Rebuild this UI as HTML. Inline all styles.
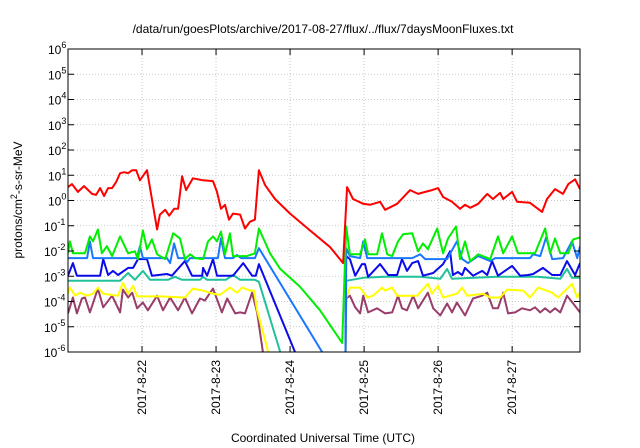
<!DOCTYPE html>
<html><head><meta charset="utf-8"><style>
html,body{margin:0;padding:0;background:#fff;}
svg{display:block;font-family:"Liberation Sans",Arial,sans-serif;}
</style></head><body>
<svg id="chart" width="640" height="448" viewBox="0 0 640 448">
<defs><clipPath id="plotclip"><rect x="68" y="49" width="512" height="303"/></clipPath></defs>
<text x="323" y="33" font-size="12" text-anchor="middle">/data/run/goesPlots/archive/2017-08-27/flux/../flux/7daysMoonFluxes.txt</text>
<text x="323" y="442" font-size="12" text-anchor="middle">Coordinated Universal Time (UTC)</text>
<text transform="translate(22,200) rotate(-90)" font-size="12" text-anchor="middle">protons/cm<tspan dy="-5" font-size="9">2</tspan><tspan dy="5">-s-sr-MeV</tspan></text>
<g id="grid"></g>
<g id="series" clip-path="url(#plotclip)"></g>
<rect x="68" y="49" width="512" height="303" fill="none" stroke="#000" stroke-width="1"/>
<g id="axes"></g>
</svg>
<script>
const yExponents = [-6,-5,-4,-3,-2,-1,0,1,2,3,4,5,6];
const xTickLabels = ["2017-8-22","2017-8-23","2017-8-24","2017-8-25","2017-8-26","2017-8-27"];
const xTickHours = [24,48,72,96,120,144];

const redT = [0,1.3,3.2,5.2,7.8,9.1,10.4,11.7,13.0,14.3,15.6,16.9,18.2,19.5,20.8,22.1,23.3,25.6,28.9,29.8,31.5,32.8,34.4,35.7,37.0,38.3,40.5,43.8,47.0,48.3,49.6,50.9,52.2,53.5,55.8,57.4,59.0,60.6,61.9,63.9,67.1,72.0,78.5,85.0,89.2,90.5,92.4,95.7,97.9,101.2,102.8,106.7,110.9,113.5,115.8,118.0,120.0,121.6,124.5,127.1,128.7,130.4,133.0,135.9,137.8,140.1,141.1,144.0,145.6,149.8,153.7,155.3,157.9,160.5,162.2,164.4,166.0];
const redV = [.53,.65,.34,.57,.26,.22,.49,.18,.49,.49,.73,1.08,1.12,1.08,1.20,1.20,0.80,1.20,-1.15,-0.56,-0.37,-0.60,-0.33,-0.33,0.96,0.41,0.88,0.80,0.77,0.34,-0.33,-0.17,-0.76,-0.52,-0.56,-1.11,-0.84,-0.76,1.20,0.61,0.06,-0.52,-1.19,-1.85,-2.48,0.53,0.06,-0.13,-0.17,-0.05,-0.37,-0.13,0.41,0.26,0.34,0.41,0.49,0.14,-0.05,-0.33,-0.17,-0.29,-0.13,0.26,0.06,0.30,0.06,0.34,-0.05,-0.09,-0.45,0.06,0.45,0.26,0.65,0.84,0.45];

const greenT = [0,0.6,1.6,5.5,7.1,8.1,9.7,11.0,12.6,14.3,16.9,19.5,21.7,22.7,24.3,25.6,27.2,28.9,31.5,34.1,36.3,37.9,39.6,41.2,43.8,45.4,47.0,48.3,49.6,50.9,52.5,53.5,58.0,60.6,61.9,65.5,68.8,75.2,81.7,88.9,90.2,91.4,94.7,96.3,97.3,100.2,101.8,103.5,105.1,107.0,108.6,111.6,113.5,115.1,116.7,119.7,121.6,123.2,125.8,127.1,128.7,130.4,133.0,136.9,139.4,141.1,144.0,145.9,151.4,154.7,156.3,157.9,159.6,162.2,163.8,166.0];
const greenV = [-2.09,-1.62,-2.09,-2.09,-1.42,-1.62,-1.15,-2.09,-1.81,-2.20,-1.42,-2.09,-2.01,-2.32,-1.19,-1.93,-1.54,-2.13,-2.32,-1.30,-1.50,-2.32,-2.13,-2.28,-2.32,-1.62,-1.42,-1.62,-1.23,-2.13,-1.30,-2.20,-2.20,-2.09,-1.11,-2.09,-2.71,-3.41,-4.35,-5.64,-1.03,-2.13,-2.13,-1.54,-2.13,-2.13,-1.30,-2.13,-2.20,-1.62,-1.34,-1.30,-2.01,-1.70,-1.93,-1.11,-2.09,-1.50,-1.03,-2.32,-1.62,-2.40,-2.13,-2.32,-1.42,-2.09,-1.42,-2.09,-2.09,-1.11,-2.09,-1.50,-2.09,-2.09,-1.54,-1.46];

const lblueT = [0,6.2,7.1,8.1,22.4,23.3,24.3,32.1,33.1,34.4,35.7,37.6,38.6,39.6,48.6,49.6,50.9,53.5,54.8,56.1,60.6,61.9,82.4,86.0,89.9,90.2,91.4,94.7,95.7,97.0,111.6,114.2,115.8,122.9,126.1,127.8,129.7,133.0,136.9,138.5,149.8,150.8,153.1,155.0,157.0,160.5,163.4,165.1,166.0];
const lblueV = [-2.28,-2.28,-1.62,-2.28,-2.28,-1.81,-2.28,-2.28,-2.48,-1.70,-2.28,-2.28,-2.44,-2.28,-2.28,-1.50,-2.28,-2.28,-2.16,-2.28,-2.28,-1.89,-6.0,-6.8,-7.0,-1.89,-2.20,-2.28,-1.62,-2.28,-2.28,-2.13,-2.32,-2.32,-1.62,-2.32,-2.48,-2.20,-2.40,-2.28,-2.28,-2.13,-2.20,-1.46,-2.32,-2.28,-1.62,-2.28,-1.81];

const blueT = [0,1.6,2.9,10.4,11.4,13.0,14.6,16.2,19.5,21.1,22.7,25.6,27.2,32.1,33.7,37.9,40.2,43.5,43.8,45.1,47.0,48.3,53.5,56.8,59.7,60.9,61.9,73.6,76.9,89.9,90.2,91.4,93.1,95.3,96.3,97.3,101.2,103.8,106.7,108.3,109.9,111.6,113.5,115.1,118.4,121.6,123.9,124.8,126.4,127.8,128.7,131.3,134.3,135.9,137.5,139.4,144.0,146.6,149.2,150.8,154.0,157.0,159.6,161.8,164.4,166.0];
const blueV = [-2.98,-2.48,-2.98,-2.98,-2.32,-2.95,-2.79,-2.95,-2.67,-2.67,-2.32,-2.32,-2.98,-2.91,-2.98,-2.40,-2.98,-2.98,-2.67,-2.98,-2.32,-2.98,-2.98,-2.48,-2.98,-2.98,-2.52,-6.0,-7.0,-7.0,-2.20,-2.32,-2.98,-2.52,-2.52,-3.02,-2.52,-2.95,-2.95,-2.32,-2.79,-2.48,-2.40,-2.98,-2.87,-2.52,-2.01,-2.95,-2.83,-2.95,-2.67,-2.98,-2.79,-2.95,-2.40,-2.98,-2.59,-2.98,-2.95,-2.91,-2.67,-2.95,-2.95,-2.40,-2.95,-2.48];

const tealT = [0,16.9,19.5,21.7,24.3,26.6,32.4,34.7,37.0,42.8,43.8,45.1,51.2,53.5,55.8,60.6,61.9,68.8,70.4,89.9,90.2,95.7,102.2,114.2,120.7,122.9,124.5,139.1,152.1,159.6,161.8,163.4,166.0];
const tealV = [-3.18,-3.18,-2.87,-3.14,-2.79,-3.14,-3.14,-3.02,-3.14,-3.14,-3.02,-3.14,-3.14,-2.95,-3.14,-3.14,-3.22,-6.0,-7.0,-7.0,-3.18,-3.06,-3.02,-3.02,-3.10,-2.71,-3.10,-3.02,-3.02,-3.10,-2.71,-3.06,-3.06];

const yellowT = [0,0.6,2.3,3.9,6.2,8.1,9.7,11.4,16.2,17.8,19.5,21.1,22.4,29.8,37.9,40.5,43.8,47.0,49.3,52.5,54.8,56.4,59.0,60.3,61.3,64.9,65.8,89.9,90.2,91.4,94.7,97.0,98.9,101.8,102.8,105.1,106.7,113.2,116.7,118.0,120.0,121.6,126.1,127.8,129.4,134.6,136.9,140.1,142.4,147.6,149.8,152.4,157.0,158.9,161.2,163.4,165.1,166.0];
const yellowV = [-3.69,-3.45,-3.77,-3.65,-3.77,-3.69,-3.45,-3.69,-3.77,-3.26,-3.69,-3.38,-3.80,-3.80,-3.84,-3.49,-3.57,-3.69,-3.73,-3.45,-3.65,-3.45,-3.57,-3.57,-4.35,-6.0,-7.0,-7.0,-3.84,-3.45,-3.45,-3.84,-3.77,-3.45,-3.57,-3.45,-3.77,-3.77,-3.30,-3.69,-3.38,-3.84,-3.69,-3.45,-3.77,-3.69,-3.84,-3.84,-3.53,-3.57,-3.84,-3.45,-3.65,-3.84,-3.57,-3.30,-3.84,-3.65];

const purpleT = [0,1.6,2.9,4.5,5.5,7.1,9.7,11.4,14.3,16.9,17.8,19.5,20.8,22.4,24.3,25.9,28.9,30.8,33.1,35.7,37.9,40.2,42.8,44.4,47.0,49.9,51.6,54.2,55.8,57.4,59.7,61.3,63.2,63.9,89.9,90.2,91.4,93.1,94.7,95.7,97.3,100.2,102.8,105.1,107.0,108.3,109.9,111.9,113.5,116.7,118.4,120.7,122.9,124.5,126.1,128.7,131.3,134.3,135.9,137.8,139.4,141.1,142.7,145.0,147.2,149.8,151.4,153.1,154.7,156.3,157.9,159.6,161.8,163.8,166.0];
const purpleV = [-4.47,-3.84,-4.47,-3.88,-3.84,-4.43,-3.49,-4.23,-3.77,-4.43,-3.53,-3.84,-3.65,-4.27,-4.04,-4.35,-3.77,-4.35,-3.84,-4.35,-3.84,-4.47,-3.88,-3.96,-3.49,-4.43,-3.88,-4.47,-4.43,-4.47,-3.65,-4.43,-6.0,-7.0,-7.0,-3.88,-3.77,-4.23,-4.47,-3.77,-4.43,-4.27,-4.47,-4.43,-3.77,-4.27,-4.35,-3.77,-4.27,-3.65,-4.27,-4.55,-4.08,-4.43,-4.04,-4.55,-3.88,-3.77,-3.65,-4.27,-4.27,-3.65,-4.47,-4.43,-4.27,-4.35,-4.23,-4.43,-4.27,-4.43,-4.27,-4.43,-3.77,-4.08,-4.43];

const PL=68, PR=580, PT=49, PB=352, HMAX=166;
function xs(h){ return PL + h/HMAX*(PR-PL); }
function ys(e){ return PB - (e+6)/12*(PB-PT); }
const NS="http://www.w3.org/2000/svg";
function mk(tag, parent){ const el=document.createElementNS(NS,tag); parent.appendChild(el); return el; }

const grid=document.getElementById('grid'), axes=document.getElementById('axes'), ser=document.getElementById('series');
yExponents.forEach(function(e){
  const y=ys(e);
  if(e>-6 && e<6){
    const g=mk('line',grid);
    
    
    g.setAttribute('x1',PL);g.setAttribute('x2',PR);g.setAttribute('y1',y);g.setAttribute('y2',y);
    g.setAttribute('stroke','#bbb');g.setAttribute('stroke-dasharray','1,2');g.setAttribute('stroke-width','0.8');
  }
  [[PL,PL+6],[PR-6,PR]].forEach(function(p){
    const t=mk('line',axes);
    
    
    t.setAttribute('x1',p[0]);t.setAttribute('x2',p[1]);t.setAttribute('y1',y);t.setAttribute('y2',y);t.setAttribute('stroke','#000');
  });
  const tx=mk('text',axes);
  
  
  tx.setAttribute('x',56);tx.setAttribute('y',y+5);tx.setAttribute('font-size','12');tx.setAttribute('text-anchor','end');
  tx.textContent='10';
  const sp=mk('tspan',tx); sp.setAttribute('dy','-6'); sp.setAttribute('font-size','9'); sp.textContent=String(e);
  tx.setAttribute('x',44+ (String(e).length>1?0:4));
  tx.setAttribute('text-anchor','start');
});
xTickHours.forEach(function(h,i){
  const x=xs(h);
  const g=mk('line',grid);
  
  
  g.setAttribute('x1',x);g.setAttribute('x2',x);g.setAttribute('y1',PT);g.setAttribute('y2',PB);
  g.setAttribute('stroke','#bbb');g.setAttribute('stroke-dasharray','1,2');g.setAttribute('stroke-width','0.8');
  [[PB,PB-6],[PT,PT+6]].forEach(function(p){
    const t=mk('line',axes);
    
    
    t.setAttribute('x1',x);t.setAttribute('x2',x);t.setAttribute('y1',p[0]);t.setAttribute('y2',p[1]);t.setAttribute('stroke','#000');
  });
  const tx=mk('text',axes);
  
  
  tx.setAttribute('transform','translate('+(x+4)+',360) rotate(-90)');
  tx.setAttribute('font-size','12');tx.setAttribute('text-anchor','end');
  tx.textContent=xTickLabels[i];
});
function drawSeries(T,V,color,name){
  const p=mk('polyline',ser);
  
  
  p.setAttribute('points',T.map(function(t,i){return xs(t).toFixed(1)+','+ys(V[i]).toFixed(1);}).join(' '));
  p.setAttribute('fill','none');p.setAttribute('stroke',color);p.setAttribute('stroke-width','2');p.setAttribute('stroke-linejoin','round');
}
drawSeries(purpleT,purpleV,'#993d6b','series-purple');
drawSeries(yellowT,yellowV,'#ffff00','series-yellow');
drawSeries(tealT,tealV,'#1fc29a','series-teal');
drawSeries(blueT,blueV,'#0b0bea','series-blue');
drawSeries(lblueT,lblueV,'#1a78ff','series-light-blue');
drawSeries(greenT,greenV,'#00ee00','series-green');
drawSeries(redT,redV,'#ff0000','series-red');
</script>
</body></html>
